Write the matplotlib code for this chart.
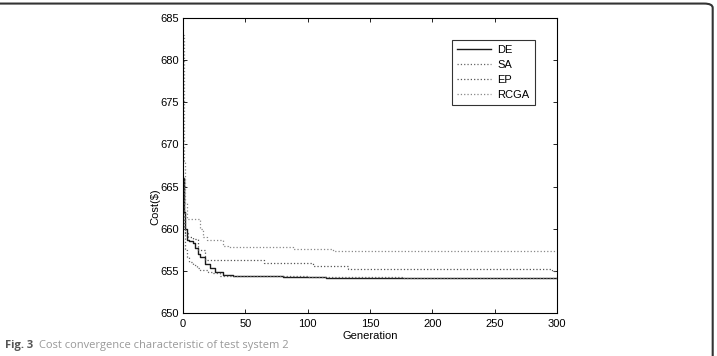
import matplotlib
matplotlib.use("Agg")
import matplotlib.pyplot as plt
from matplotlib.patches import FancyBboxPatch

plt.rcParams['font.family'] = ['Liberation Sans', 'DejaVu Sans']

# best cost per generation (step points)
de_gen = [0, 1, 2, 3, 5, 8, 10, 12, 14, 18, 22, 26, 32, 40, 60, 80, 115, 300]
de_cost = [666, 662, 660, 658.7, 658.6, 658.3, 657.7, 657.0, 656.6, 655.8,
           655.3, 654.9, 654.5, 654.4, 654.35, 654.3, 654.15, 654.1]

sa_gen = [0, 1, 2, 3, 5, 8, 11, 14, 20, 24, 30, 60, 100, 176, 300]
sa_cost = [665, 660, 657.5, 656.7, 656.0, 655.7, 655.3, 655.1, 654.9,
           654.7, 654.4, 654.35, 654.3, 654.2, 654.15]

ep_gen = [0, 1, 2, 4, 8, 12, 18, 65, 104, 132, 296, 300]
ep_cost = [666, 662, 659.5, 659.0, 658.8, 657.5, 656.3, 655.9, 655.6,
           655.2, 655.0, 655.0]

rcga_gen = [0, 1, 2, 3, 14, 16, 19, 32, 36, 88, 120, 300]
rcga_cost = [683, 668, 663, 661.1, 660.0, 659.05, 658.7, 657.9, 657.8,
             657.55, 657.35, 657.3]

fig = plt.figure(figsize=(7.17, 3.56), dpi=100)
ax = fig.add_axes([0.2552, 0.1208, 0.5216, 0.8286])

ax.plot(de_gen, de_cost, drawstyle='steps-post', color='#1a1a1a', lw=1.0, label='DE')
ax.plot(sa_gen, sa_cost, drawstyle='steps-post', color='#666666', lw=0.9, ls=':', label='SA')
ax.plot(ep_gen, ep_cost, drawstyle='steps-post', color='#555555', lw=0.9, ls=':', label='EP')
ax.plot(rcga_gen, rcga_cost, drawstyle='steps-post', color='#888888', lw=0.9, ls=':', label='RCGA')

ax.set_xlim(0, 300)
ax.set_ylim(650, 685)
ax.set_xticks(range(0, 301, 50))
ax.set_yticks(range(650, 686, 5))
ax.tick_params(direction='in', top=True, right=True, labelsize=8, length=3, width=0.6)
ax.tick_params(axis='x', pad=4)
ax.tick_params(axis='y', pad=3)
for s in ax.spines.values():
    s.set_linewidth(0.8)
ax.set_xlabel('Generation', fontsize=8, labelpad=2)
ax.set_ylabel('Cost($)', fontsize=8, labelpad=1)
ax.yaxis.set_label_coords(-0.06, 0.36)

leg = ax.legend(loc='upper right', bbox_to_anchor=(0.955, 0.945), fontsize=8,
                fancybox=False, edgecolor='black', handlelength=3.0,
                borderpad=0.45, labelspacing=0.45, handletextpad=0.6)
leg.get_frame().set_linewidth(0.8)

# page frame around the figure
frame = FancyBboxPatch((-0.05, -0.2), 1.044, 1.19, boxstyle='round,pad=0,rounding_size=0.012',
                       transform=fig.transFigure, fill=False, edgecolor='#333333', lw=1.5,
                       clip_on=False)
fig.patches.append(frame)

fig.text(0.007, 0.022, 'Fig. 3', fontsize=8, fontweight='bold', color='#555555',
         family=['Open Sans', 'DejaVu Sans'])
fig.text(0.055, 0.022, 'Cost convergence characteristic of test system 2', fontsize=8,
         color='#999999', family=['Open Sans', 'DejaVu Sans'])

fig.savefig('out.png', dpi=100)
